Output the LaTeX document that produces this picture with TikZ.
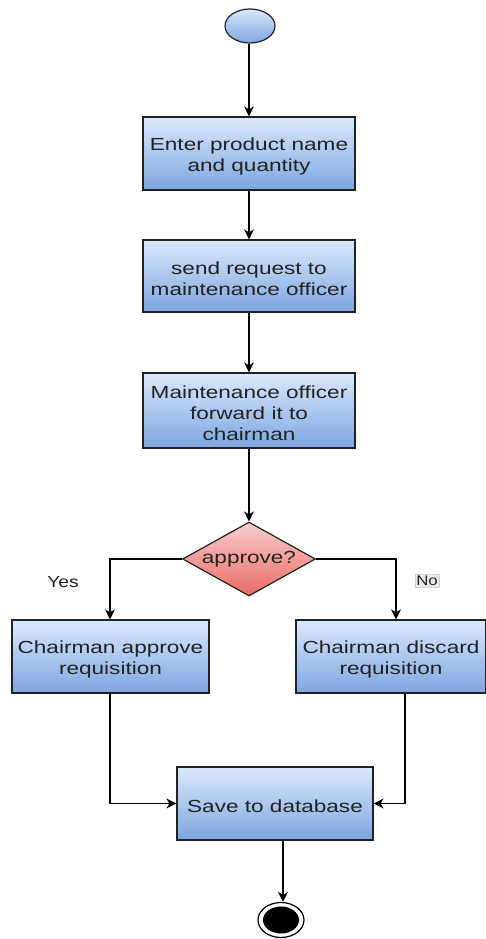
\documentclass[tikz,border=0pt]{standalone}
\usepackage{fontspec}
\setmainfont[FakeStretch=1.29]{Liberation Sans}
\newfontfamily\lblfont[FakeStretch=1.2]{Liberation Sans}
\usetikzlibrary{arrows.meta,shapes.geometric}
\definecolor{boxtop}{HTML}{DAE8FC}
\definecolor{boxbot}{HTML}{7EA6E0}
\definecolor{dectop}{HTML}{F8CECC}
\definecolor{decbot}{HTML}{EA6B66}
\definecolor{ink}{HTML}{222222}
% tall invisible strut that drops the text block a little inside its box
\newcommand{\toppad}{\rule{0pt}{19pt}}
\tikzset{
  actbox/.style={rectangle, draw=ink, line width=1.2pt, top color=boxtop, bottom color=boxbot,
    minimum height=73pt, inner sep=0pt, align=center, text=ink,
    font=\fontsize{17.5}{21}\selectfont},
  decbox/.style={diamond, draw=ink, line width=1.2pt, top color=dectop, bottom color=decbot,
    minimum width=133pt, minimum height=74pt, inner sep=0pt, aspect=1.8, text=ink,
    font=\fontsize{17.5}{21}\selectfont},
  flow/.style={draw=black, line width=1.3pt, -{Stealth[length=10pt,width=10pt,inset=3pt]}},
  lbl/.style={font=\lblfont\fontsize{16}{18}\selectfont, text=ink, inner sep=1.5pt},
}
\begin{document}
\begin{tikzpicture}[x=1pt,y=-1pt]
  \useasboundingbox (0,0) rectangle (486,939);
  % start and end markers
  \node[ellipse, draw=ink, line width=1.2pt, top color=boxtop, bottom color=boxbot,
        minimum width=50pt, minimum height=34pt, inner sep=0pt] (start) at (250,26) {};
  \node[ellipse, draw=black, line width=1.2pt, fill=white,
        minimum width=46pt, minimum height=35pt, inner sep=0pt] (stop) at (281,920) {};
  \node[ellipse, fill=black, minimum width=36pt, minimum height=27pt, inner sep=0pt] at (stop.center) {};
  % activities
  \node[actbox, minimum width=212pt] (enter) at (249,153.5) {\toppad Enter product name\\and quantity};
  \node[actbox, minimum width=212pt, minimum height=72pt] (send) at (249,276) {\toppad send request to\\maintenance officer};
  \node[actbox, minimum width=212pt, minimum height=75pt] (fwd) at (249,410.5) {\toppad Maintenance officer\\forward it to\\chairman};
  \node[decbox] (dec) at (249,559) {\raisebox{-2pt}{approve?}};
  \node[actbox, minimum width=197pt] (yes) at (110.5,656.5) {\toppad Chairman approve\\requisition};
  \node[actbox, minimum width=190pt] (no) at (391,656.5) {\toppad Chairman discard\\requisition};
  \node[actbox, minimum width=196pt] (save) at (275,803.5) {\toppad Save to database};
  % branch labels
  \node[lbl] (ylbl) at (63,582) {Yes};
  \node[lbl, fill=black!8, draw=black!18, line width=0.5pt, font=\lblfont\fontsize{14}{16}\selectfont] (nlbl) at (427,581) {No};
  % connectors
  \draw[flow] (start.south -| enter.north) -- (enter.north);
  \draw[flow] (enter) -- (send);
  \draw[flow] (send) -- (fwd);
  \draw[flow] (fwd) -- (dec);
  \coordinate (ya) at (110,0);
  \coordinate (na) at (396,0);
  \draw[flow] (dec.west) -| (ya |- yes.north);
  \draw[flow] (dec.east) -| (na |- no.north);
  \coordinate (yb) at (110,0);
  \coordinate (nb) at (405,0);
  \draw[flow] (yb |- yes.south) |- (save.west);
  \draw[flow] (nb |- no.south) |- (save.east);
  \coordinate (sb) at (283,0);
  \draw[flow] (sb |- save.south) -- (sb |- stop.north);
\end{tikzpicture}
\end{document}
